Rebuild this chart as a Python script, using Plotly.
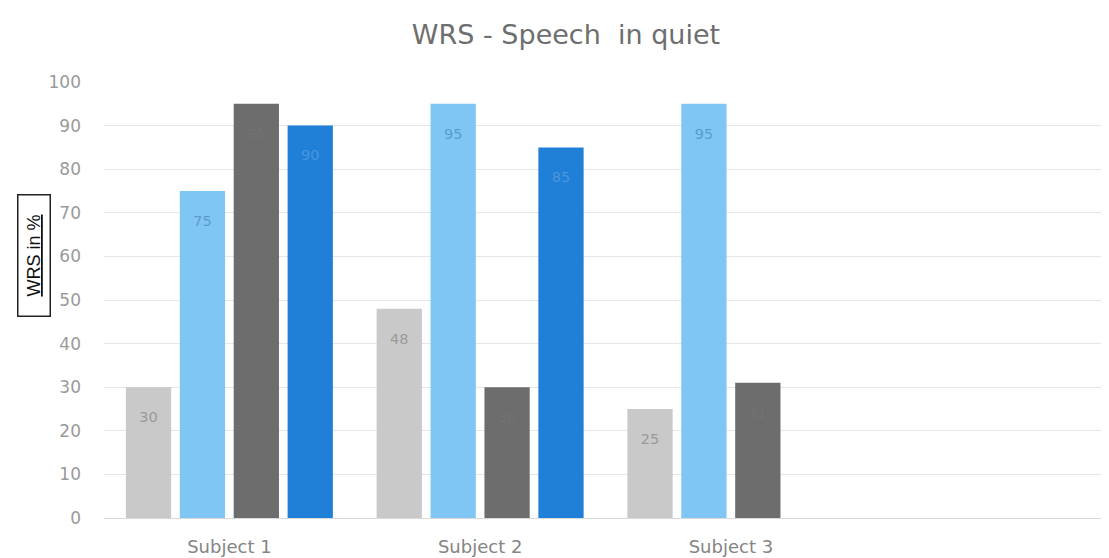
import plotly.graph_objects as go

categories = ["Subject 1", "Subject 2", "Subject 3", " "]
series_names = ["Condition 1", "Condition 2", "Condition 3", "Condition 4"]
s1 = [30, 48, 25, None]
s2 = [75, 95, 95, None]
s3 = [95, 30, 31, None]
s4 = [90, 85, None, None]
colors = ["#c9c9c9", "#80c6f5", "#6d6d6d", "#2080d8"]
label_colors = ["#9a9a9a", "#5b9ccc", "#727272", "#4a95dc"]

fig = go.Figure()
for name, vals, col, lc in zip(series_names, [s1, s2, s3, s4], colors, label_colors):
    fig.add_trace(go.Bar(
        x=categories, y=vals, name=name,
        marker=dict(color=col, line=dict(width=0)),
        text=[("" if v is None else "&nbsp;<br>" + str(v)) for v in vals],
        textposition="inside", insidetextanchor="end",
        textfont=dict(color=lc, size=14.5, family="DejaVu Sans"),
        textangle=0,
    ))

W, H = 1101, 550
L, T, PW, PH = 96, 74, 1003, 436

fig.update_layout(
    width=W, height=H,
    barmode="group", bargap=0.14, bargroupgap=0.16,
    showlegend=False,
    paper_bgcolor="white", plot_bgcolor="white",
    margin=dict(l=L, r=W - L - PW, t=T, b=H - T - PH, autoexpand=False),
    font=dict(family="DejaVu Sans", color="#8c8c8c", size=16),
    title=dict(text="WRS - Speech&nbsp; in quiet", x=558 / W, xanchor="center",
               y=1 - 27 / H, yanchor="middle",
               font=dict(size=27, color="#6e6e6e", family="DejaVu Sans")),
    xaxis=dict(showgrid=False, showline=True, linecolor="#d9d9d9", linewidth=1,
               ticks="", automargin=False,
               tickfont=dict(size=18, color="#858585", family="DejaVu Sans"),
               ticklabelstandoff=12),
    yaxis=dict(range=[0, 100], dtick=10, showgrid=True, gridcolor="#e6e6e6",
               gridwidth=1, zeroline=False, showline=False, ticks="",
               automargin=False,
               tickfont=dict(size=17, color="#9a9a9a", family="DejaVu Sans"),
               ticklabelstandoff=22),
    annotations=[dict(
        text="<u>WRS in %</u>", textangle=-90,
        xref="paper", yref="paper",
        x=(25.5 - L) / PW, y=(T + PH - 247.5) / PH,
        xanchor="center", yanchor="middle", showarrow=False,
        font=dict(size=18, color="#111111", family="Liberation Sans"),
        width=118, height=29,
        bordercolor="#222222", borderwidth=1.5, borderpad=1,
        bgcolor="white",
    )],
)

fig.write_html("out.html")
